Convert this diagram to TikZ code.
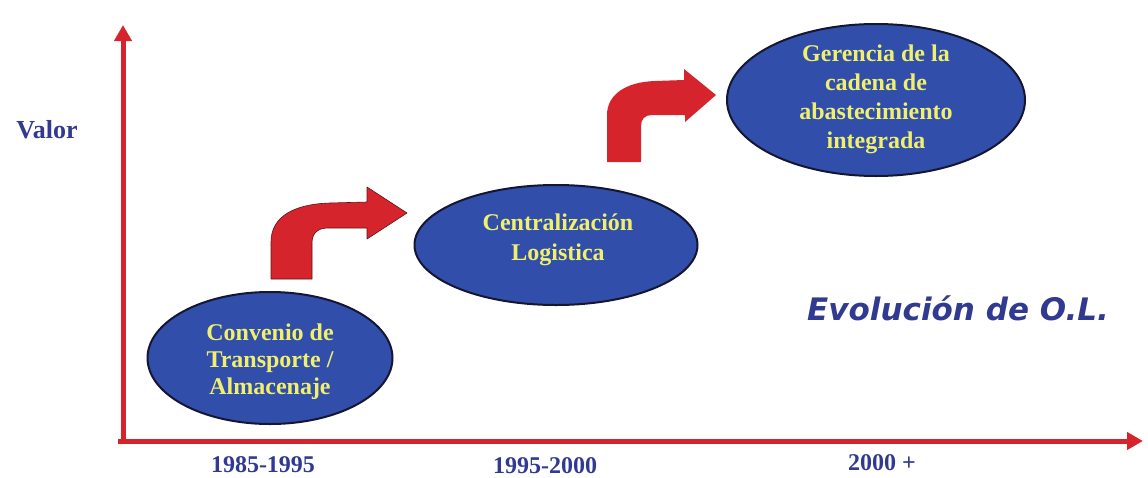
\documentclass[tikz,border=0pt]{standalone}
\usepackage{fontspec}
\setmainfont{Liberation Serif}
\newfontfamily\evofont{DejaVu Sans}
\usetikzlibrary{shapes.geometric,arrows.meta}
\definecolor{ellblue}{RGB}{48,78,170}
\definecolor{ellline}{RGB}{20,22,50}
\definecolor{ellyellow}{RGB}{240,240,110}
\definecolor{axred}{RGB}{214,36,44}
\definecolor{arrowline}{RGB}{90,20,25}
\definecolor{labblue}{RGB}{48,58,145}
\begin{document}
\begin{tikzpicture}[x=1pt,y=-1pt,
  oval/.style={ellipse, draw=ellline, line width=2pt, fill=ellblue, inner sep=0pt},
  ovaltext/.style={text=ellyellow, font=\fontsize{24}{#1}\selectfont\bfseries, align=center, inner sep=0pt},
  axis/.style={draw=axred, line width=5pt, -{Triangle[length=16pt,width=17pt]}},
  axlabel/.style={text=labblue, font=\fontsize{24}{28}\selectfont\bfseries, anchor=base, inner sep=0pt},
  bentarrow/.style={fill=axred, draw=arrowline, line width=0.6pt, line join=round}]
\useasboundingbox (0,0) rectangle (1148,477);
% axes
\coordinate (vstart) at (123,444);
\coordinate (ytip) at (123,25);
\coordinate (hstart) at (118,441);
\coordinate (xtip) at (1143,441);
\draw[axis] (vstart) -- (ytip);
\draw[axis] (hstart) -- (xtip);
% labels
\node[axlabel, font=\fontsize{26}{30}\selectfont\bfseries] (valor) at (47,138) {Valor};
\node[axlabel] (p1) at (263,472) {1985-1995};
\node[axlabel] (p2) at (545,473) {1995-2000};
\node[axlabel] (p3) at (882,470) {2000 +};
\node[anchor=base, inner sep=0pt, text=labblue, font=\evofont\bfseries\itshape\fontsize{31}{34}\selectfont] (evo) at (958,320) {Evolución de O.L.};
% ellipses
\node[oval, minimum width=245pt, minimum height=132pt] (e1) at (270,358) {};
\node[ovaltext=27] (e1t) at (270,362) {Convenio de\\Transporte /\\Almacenaje};
\node[oval, minimum width=283pt, minimum height=120pt] (e2) at (556,245) {};
\node[ovaltext=30] (e2t) at (558,240) {Centralización\\Logistica};
\node[oval, minimum width=298pt, minimum height=152pt] (e3) at (876,100) {};
\node[ovaltext=29] (e3t) at (876,99) {Gerencia de la\\cadena de\\abastecimiento\\integrada};
% bent arrows
\path[bentarrow] (271,279) -- (271,242) .. controls (271,216) and (295,204) .. (330,203) -- (367,202) -- (367,187) -- (407,213) -- (367,239) -- (367,228) -- (328,228) .. controls (318,228) and (312,233) .. (312,243) -- (312,279) -- cycle;
\path[bentarrow, draw=none] (607,162) -- (607,115) .. controls (607,95) and (625,82) .. (655,81) -- (684,80) -- (684,69) -- (716,95) -- (685,122) -- (685,115) -- (652,115) .. controls (645,115) and (641,119) .. (641,126) -- (641,162) -- cycle;
\end{tikzpicture}
\end{document}
